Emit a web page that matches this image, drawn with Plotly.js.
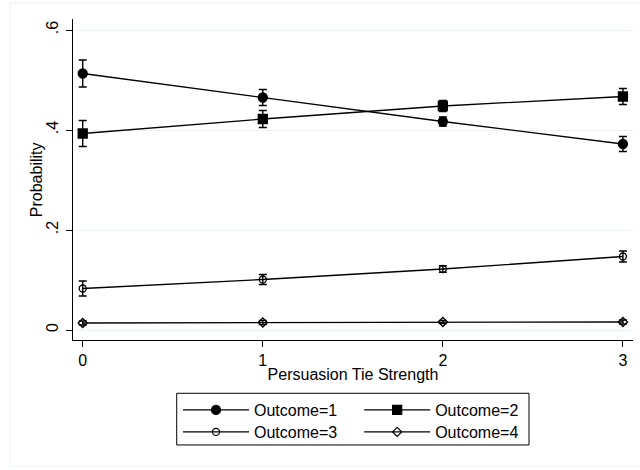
<!DOCTYPE html>
<html>
<head>
<meta charset="utf-8">
<script src="https://cdn.plot.ly/plotly-3.0.1.min.js"></script>
<style>html,body{margin:0;padding:0;background:#fff;}#chart{width:640px;height:470px;}</style>
</head>
<body>
<div id="chart"></div>
<script>
// Data
const tieStrength = [0, 1, 2, 3];
const xTickLabels = ['0', '1', '2', '3'];
const yTickVals = [0, 0.2, 0.4, 0.6];
const yTickLabels = ['0', '.2', '.4', '.6'];

const outcome1 = [0.513, 0.465, 0.417, 0.372];
const outcome1Err = [0.027, 0.016, 0.009, 0.015];
const outcome2 = [0.393, 0.422, 0.448, 0.467];
const outcome2Err = [0.026, 0.017, 0.011, 0.016];
const outcome3 = [0.083, 0.101, 0.122, 0.147];
const outcome3Err = [0.015, 0.010, 0.0066, 0.011];
const outcome4 = [0.014, 0.015, 0.016, 0.016];
const outcome4Err = [0.004, 0.004, 0.003, 0.004];

const seriesNames = ['Outcome=1', 'Outcome=2', 'Outcome=3', 'Outcome=4'];

function trace(name, y, err, symbol, size, legend) {
  return {
    type: 'scatter', mode: 'lines+markers', name: name,
    x: tieStrength, y: y,
    line: {color: '#000', width: 1.3},
    marker: {symbol: symbol, size: size, color: '#000', line: {color: '#000', width: 1.3}},
    error_y: {type: 'data', array: err, visible: true, color: '#000', thickness: 1.4, width: 4},
    legend: legend
  };
}

const data = [
  trace(seriesNames[0], outcome1, outcome1Err, 'circle', 9, 'legend'),
  trace(seriesNames[1], outcome2, outcome2Err, 'square', 9, 'legend2'),
  trace(seriesNames[2], outcome3, outcome3Err, 'circle-open', 7, 'legend3'),
  trace(seriesNames[3], outcome4, outcome4Err, 'diamond-open', 7, 'legend4')
];

const font = {family: '"Liberation Sans", Arial, sans-serif', size: 16, color: '#000'};
const legendBase = {
  orientation: 'v', xanchor: 'left', yanchor: 'top',
  bgcolor: 'rgba(0,0,0,0)', borderwidth: 0, itemwidth: 66,
  font: font
};
const col1X = 0.1875, col2X = 0.511, row1Y = -0.1651, row2Y = -0.2336;

const layout = {
  width: 640, height: 470,
  margin: {l: 73, r: 7, t: 19, b: 130},
  paper_bgcolor: '#fff', plot_bgcolor: '#fff',
  font: font,
  showlegend: true,
  xaxis: {
    range: [-0.054, 3.056], tickvals: tieStrength, ticktext: xTickLabels,
    showgrid: false, zeroline: false, showline: true, linecolor: '#000', linewidth: 1,
    ticks: 'outside', ticklen: 6, tickcolor: '#000', tickwidth: 1,
    title: {text: 'Persuasion Tie Strength', font: font, standoff: 0},
    automargin: false
  },
  yaxis: {
    range: [-0.02, 0.622], tickvals: yTickVals, ticktext: yTickLabels, tickangle: -90,
    ticklabelstandoff: 2,
    showgrid: true, gridcolor: '#eaf2f3', gridwidth: 1,
    zeroline: false, showline: true, linecolor: '#000', linewidth: 1,
    ticks: 'outside', ticklen: 6, tickcolor: '#000', tickwidth: 1,
    automargin: false
  },
  annotations: [
    {text: 'Probability', xref: 'paper', yref: 'paper', x: -0.0648, y: 0.5,
     xanchor: 'center', yanchor: 'middle', textangle: -90, showarrow: false, font: font}
  ],
  legend: Object.assign({}, legendBase, {x: col1X, y: row1Y}),
  legend2: Object.assign({}, legendBase, {x: col2X, y: row1Y}),
  legend3: Object.assign({}, legendBase, {x: col1X, y: row2Y}),
  legend4: Object.assign({}, legendBase, {x: col2X, y: row2Y}),
  shapes: [
    {type: 'rect', xref: 'paper', yref: 'paper', x0: -0.1125, x1: 1.03, y0: -0.3925, y1: 1.0498,
     line: {color: '#eaf2f3', width: 1}, fillcolor: 'rgba(0,0,0,0)', layer: 'below'},
    {type: 'rect', xref: 'paper', yref: 'paper', x0: 0.1852, x1: 0.8143, y0: -0.327, y1: -0.166,
     line: {color: '#000', width: 1}, fillcolor: 'rgba(0,0,0,0)'}
  ]
};

Plotly.newPlot('chart', data, layout, {displayModeBar: false, staticPlot: true});
</script>
</body>
</html>
